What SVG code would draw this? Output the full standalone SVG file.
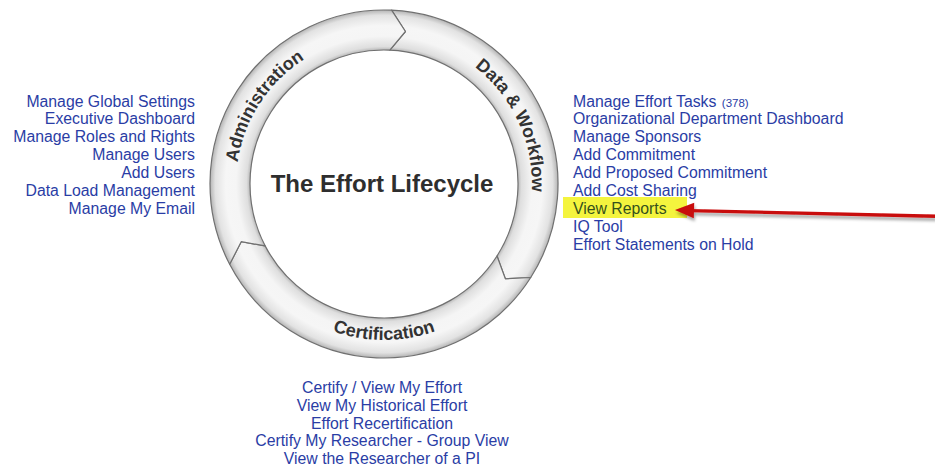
<svg xmlns="http://www.w3.org/2000/svg" width="935" height="466" viewBox="0 0 935 466">
  <style>
    .link { font-family: "Liberation Sans", Arial, sans-serif; font-size: 15.8px; fill: #2a3da5; }
    .ring-label { font-family: "Liberation Sans", Arial, sans-serif; font-size: 18px; font-weight: bold; fill: #333333; }
    .title { font-family: "Liberation Sans", Arial, sans-serif; font-size: 24px; font-weight: bold; fill: #2e2e2e; }
    .segment { fill: url(#tube); stroke: #707070; stroke-width: 1.2; stroke-linejoin: round; }
  </style>
  <defs>
    <!-- tube-like shading across the ring band (inner r=134, outer r=174) -->
    <radialGradient id="tube" gradientUnits="userSpaceOnUse" cx="384" cy="184" r="174">
      <stop offset="0.77" stop-color="#b8b8b8"/>
      <stop offset="0.79" stop-color="#dedede"/>
      <stop offset="0.85" stop-color="#f5f5f5"/>
      <stop offset="0.91" stop-color="#f6f6f6"/>
      <stop offset="0.97" stop-color="#e2e2e2"/>
      <stop offset="1" stop-color="#b4b4b4"/>
    </radialGradient>
    <filter id="shadow" x="-5%" y="-100%" width="110%" height="300%">
      <feDropShadow dx="1" dy="3" stdDeviation="1.6" flood-color="#000" flood-opacity="0.35"/>
    </filter>
    <!-- label baselines along the ring -->
    <path id="arc-admin" d="M252.1,251.2 A148,148 0 0 1 391.7,36.2"/>
    <path id="arc-workflow" d="M397.9,36.6 A148,148 0 0 1 504.6,269.7"/>
    <path id="arc-cert" d="M248.9,262 A156,156 0 0 0 519.1,262"/>
  </defs>

  <rect width="935" height="466" fill="#ffffff"/>

  <!-- lifecycle ring: three chevron-jointed segments -->
  <g id="ring">
    <g id="seg-data-workflow">
      <path class="segment" d="M391.59,10.17 A174,174 0 0 1 530.75,277.49 L505.35,278.81 L497.01,256.00 A134,134 0 0 0 389.85,50.13 L405.43,31.50 Z"/>
      <text class="ring-label"><textPath href="#arc-workflow" startOffset="50%" text-anchor="middle">Data &amp; Workflow</textPath></text>
    </g>
    <g id="seg-certification">
      <path class="segment" d="M530.75,277.49 A174,174 0 0 1 229.66,264.34 L241.21,241.69 L265.14,245.87 A134,134 0 0 0 497.01,256.00 L505.35,278.81 Z"/>
      <text class="ring-label"><textPath href="#arc-cert" startOffset="50%" text-anchor="middle">Certification</textPath></text>
    </g>
    <g id="seg-administration">
      <path class="segment" d="M229.66,264.34 A174,174 0 0 1 391.59,10.17 L405.43,31.50 L389.85,50.13 A134,134 0 0 0 265.14,245.87 L241.21,241.69 Z"/>
      <text class="ring-label"><textPath href="#arc-admin" startOffset="50%" text-anchor="middle">Administration</textPath></text>
    </g>
  </g>

  <g id="title">
    <text class="title" x="382" y="191.5" text-anchor="middle">The Effort Lifecycle</text>
  </g>

  <!-- administration links -->
  <g id="admin-links" text-anchor="end">
    <text class="link" x="195" y="106.5">Manage Global Settings</text>
    <text class="link" x="195" y="124.4">Executive Dashboard</text>
    <text class="link" x="195" y="142.3">Manage Roles and Rights</text>
    <text class="link" x="195" y="160.2">Manage Users</text>
    <text class="link" x="195" y="178.1">Add Users</text>
    <text class="link" x="195" y="196">Data Load Management</text>
    <text class="link" x="195" y="213.9">Manage My Email</text>
  </g>

  <!-- data & workflow links -->
  <g id="workflow-links">
    <rect x="563" y="197" width="124" height="21" fill="#f4f43e"/>
    <text class="link" x="573" y="106.5">Manage Effort Tasks <tspan font-size="11.5px" dx="1">(378)</tspan></text>
    <text class="link" x="573" y="124.4">Organizational Department Dashboard</text>
    <text class="link" x="573" y="142.3">Manage Sponsors</text>
    <text class="link" x="573" y="160.2">Add Commitment</text>
    <text class="link" x="573" y="178.1">Add Proposed Commitment</text>
    <text class="link" x="573" y="196">Add Cost Sharing</text>
    <text class="link" x="573" y="213.9" style="fill:#34501c">View Reports</text>
    <text class="link" x="573" y="231.8">IQ Tool</text>
    <text class="link" x="573" y="249.7">Effort Statements on Hold</text>
  </g>

  <!-- certification links -->
  <g id="cert-links" text-anchor="middle">
    <text class="link" x="382" y="393">Certify / View My Effort</text>
    <text class="link" x="382" y="410.8">View My Historical Effort</text>
    <text class="link" x="382" y="428.6">Effort Recertification</text>
    <text class="link" x="382" y="446.4">Certify My Researcher - Group View</text>
    <text class="link" x="382" y="464.2">View the Researcher of a PI</text>
  </g>

  <!-- call-out arrow -->
  <g id="connectors">
    <g filter="url(#shadow)">
      <line x1="936" y1="216.2" x2="690" y2="210.6" stroke="#c80a0a" stroke-width="3.4"/>
      <polygon points="675,210 694.2,202.8 693.8,218.2" fill="#c80a0a"/>
    </g>
  </g>
</svg>
